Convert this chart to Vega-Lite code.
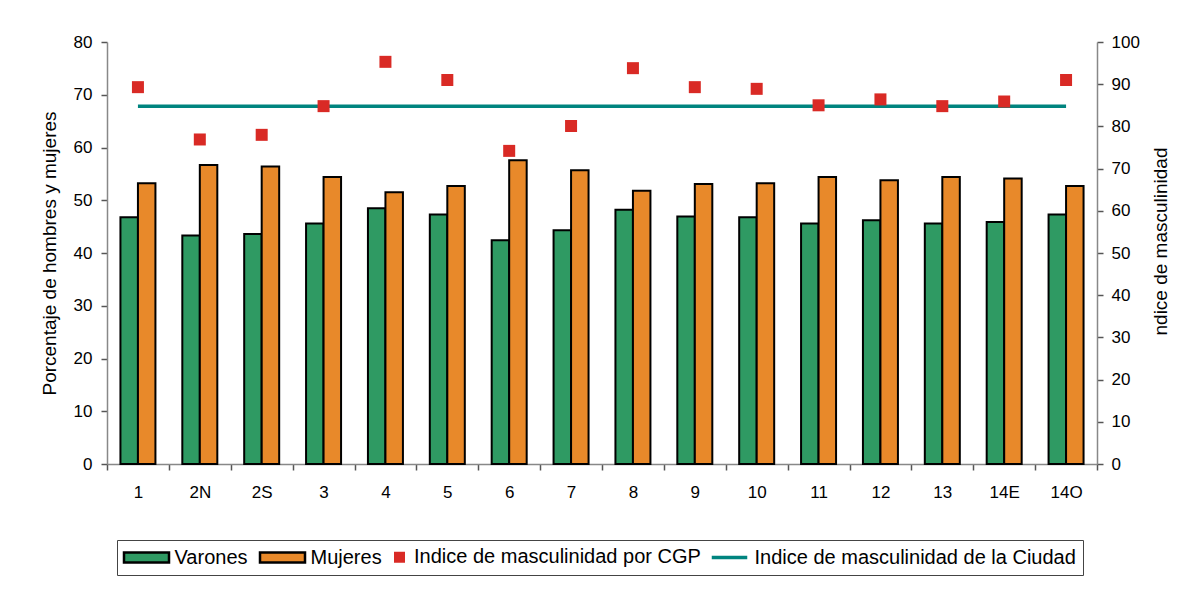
{
  "$schema": "https://vega.github.io/schema/vega-lite/v6.json",
  "width": 990,
  "height": 422,
  "autosize": {"type": "none"},
  "padding": {"left": 107, "top": 42, "right": 97, "bottom": 128},
  "background": "white",
  "config": {
    "font": "Liberation Sans",
    "view": {"stroke": null},
    "axis": {
      "grid": false,
      "labelFont": "Liberation Sans",
      "labelFontSize": 17,
      "labelColor": "black",
      "titleFont": "Liberation Sans",
      "titleFontSize": 19,
      "titleFontWeight": "normal",
      "titleColor": "black",
      "domainColor": "#888888",
      "domainWidth": 1.5,
      "tickColor": "#555555",
      "tickWidth": 1.5,
      "tickSize": 6
    }
  },
  "data": {
    "values": [
      {"cgp": "1", "Varones": 46.8, "Mujeres": 53.2, "indice": 89.3, "ciudad": 84.8},
      {"cgp": "2N", "Varones": 43.3, "Mujeres": 56.7, "indice": 76.9, "ciudad": 84.8},
      {"cgp": "2S", "Varones": 43.6, "Mujeres": 56.4, "indice": 78.0, "ciudad": 84.8},
      {"cgp": "3", "Varones": 45.6, "Mujeres": 54.4, "indice": 84.8, "ciudad": 84.8},
      {"cgp": "4", "Varones": 48.5, "Mujeres": 51.5, "indice": 95.3, "ciudad": 84.8},
      {"cgp": "5", "Varones": 47.3, "Mujeres": 52.7, "indice": 91.0, "ciudad": 84.8},
      {"cgp": "6", "Varones": 42.4, "Mujeres": 57.6, "indice": 74.2, "ciudad": 84.8},
      {"cgp": "7", "Varones": 44.3, "Mujeres": 55.7, "indice": 80.1, "ciudad": 84.8},
      {"cgp": "8", "Varones": 48.2, "Mujeres": 51.8, "indice": 93.8, "ciudad": 84.8},
      {"cgp": "9", "Varones": 46.9, "Mujeres": 53.1, "indice": 89.3, "ciudad": 84.8},
      {"cgp": "10", "Varones": 46.8, "Mujeres": 53.2, "indice": 88.9, "ciudad": 84.8},
      {"cgp": "11", "Varones": 45.6, "Mujeres": 54.4, "indice": 85.0, "ciudad": 84.8},
      {"cgp": "12", "Varones": 46.2, "Mujeres": 53.8, "indice": 86.4, "ciudad": 84.8},
      {"cgp": "13", "Varones": 45.6, "Mujeres": 54.4, "indice": 84.8, "ciudad": 84.8},
      {"cgp": "14E", "Varones": 45.9, "Mujeres": 54.1, "indice": 85.9, "ciudad": 84.8},
      {"cgp": "14O", "Varones": 47.3, "Mujeres": 52.7, "indice": 91.0, "ciudad": 84.8}
    ]
  },
  "encoding": {
    "x": {
      "field": "cgp",
      "type": "nominal",
      "sort": null,
      "scale": {"paddingInner": 0, "paddingOuter": 0},
      "axis": {"title": null, "labelAngle": 0, "tickBand": "extent", "labelPadding": 14}
    }
  },
  "layer": [
    {
      "transform": [{"fold": ["Varones", "Mujeres"], "as": ["serie", "valor"]}],
      "mark": {"type": "bar", "stroke": "black", "strokeWidth": 2},
      "encoding": {
        "xOffset": {"field": "serie", "sort": ["Varones", "Mujeres"], "scale": {"paddingInner": 0, "paddingOuter": 0.768}},
        "y": {
          "field": "valor",
          "type": "quantitative",
          "scale": {"domain": [0, 80]},
          "axis": {"title": "Porcentaje de hombres y mujeres", "values": [0, 10, 20, 30, 40, 50, 60, 70, 80], "labelPadding": 9, "titlePadding": 14}
        },
        "color": {
          "field": "serie",
          "type": "nominal",
          "scale": {
            "domain": ["Varones", "Mujeres", "Indice de masculinidad por CGP", "Indice de masculinidad de la Ciudad"],
            "range": ["#2f9a63", "#e8892a", "#d92a25", "#00847f"]
          },
          "legend": {
            "title": null,
            "orient": "none",
            "legendX": 10,
            "legendY": 498,
            "direction": "horizontal",
            "strokeColor": "#444444",
            "padding": 7,
            "labelFont": "Liberation Sans",
            "labelFontSize": 20,
            "labelColor": "black",
            "labelLimit": 0,
            "symbolSize": 100,
            "symbolStrokeWidth": 2.5,
            "symbolOpacity": 1,
            "columnPadding": 7,
            "symbolType": {"expr": "datum.value === 'Indice de masculinidad por CGP' ? 'M-1.1,-1.1H1.1V1.1H-1.1Z' : datum.value === 'Indice de masculinidad de la Ciudad' ? 'M-3.3,-0.1H3.3V0.1H-3.3Z' : 'M-4.5,-1H4.5V1H-4.5Z'"},
            "symbolStrokeColor": {"expr": "datum.value === 'Indice de masculinidad por CGP' ? 'transparent' : datum.value === 'Indice de masculinidad de la Ciudad' ? '#00847f' : 'black'"},
            "symbolOffset": {"expr": "datum.value === 'Indice de masculinidad por CGP' ? -4.5 : datum.value === 'Indice de masculinidad de la Ciudad' ? 6.5 : 12.5"},
            "labelOffset": {"expr": "datum.value === 'Indice de masculinidad por CGP' ? 4.5 : datum.value === 'Indice de masculinidad de la Ciudad' ? 15 : 18"}
          }
        }
      }
    },
    {
      "layer": [
        {
          "mark": {"type": "line", "strokeWidth": 3.5, "color": "#00847f"},
          "encoding": {
            "y": {
              "field": "ciudad",
              "type": "quantitative",
              "scale": {"domain": [0, 100]},
              "axis": {"orient": "right", "title": "ndice de masculinidad", "values": [0, 10, 20, 30, 40, 50, 60, 70, 80, 90, 100], "labelPadding": 8, "titlePadding": 12, "titleAngle": 270, "titleBaseline": "top", "titleY": 199}
            }
          }
        },
        {
          "mark": {"type": "point", "shape": "square", "filled": true, "size": 144, "opacity": 1, "color": "#d92a25"},
          "encoding": {
            "y": {"field": "indice", "type": "quantitative"}
          }
        }
      ]
    }
  ],
  "resolve": {"scale": {"y": "independent"}}
}
